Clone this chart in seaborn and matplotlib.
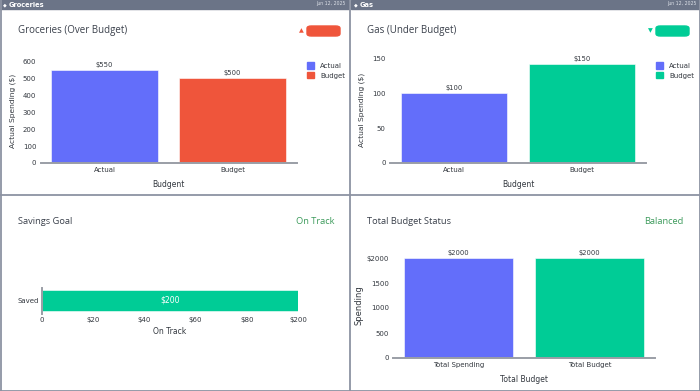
import matplotlib
matplotlib.use("Agg")
import matplotlib.pyplot as plt
import matplotlib.patches as mpatches
import pandas as pd
import seaborn as sns

# data
groc_cats = ["Actual", "Budget"]
groc_vals = [550, 500]
groc_labels = ["$550", "$500"]

gas_cats = ["Actual", "Budget"]
gas_vals = [100, 142]
gas_labels = ["$100", "$150"]

sav_cats = ["Saved"]
sav_vals = [200]
sav_labels = ["$200"]
sav_ticks = [0, 40, 80, 120, 160, 200]
sav_ticklabels = ["0", "$20", "$40", "$60", "$80", "$200"]

tot_cats = ["Total Spending", "Total Budget"]
tot_vals = [2000, 2000]
tot_labels = ["$2000", "$2000"]
tot_ticks = [0, 500, 1000, 1500, 2000]
tot_ticklabels = ["0", "500", "1000", "1500", "$2000"]

BLUE = "#636efa"
RED = "#ef553b"
GREEN = "#00cc96"
TXT = "#33383f"
TITLE = "#3a404b"
OKGREEN = "#3d9b5c"
HEADER = "#6b7487"
BORDER = "#8c93a2"
TITLE_FONT = ["Open Sans", "DejaVu Sans"]

sns.set_theme(style="white")
plt.rcParams["font.family"] = ["DejaVu Sans"]

W, H = 700, 391
fig = plt.figure(figsize=(7, 3.91), dpi=100)
fig.patch.set_facecolor("white")


def rect(x0, y0, x1, y1):
    return [x0 / W, 1 - y1 / H, (x1 - x0) / W, (y1 - y0) / H]


def fx(x):
    return x / W


def fy(y):
    return 1 - y / H


# panel frame: headers, dividers
for x0, name in [(0, "Groceries"), (351, "Gas")]:
    fig.patches.append(mpatches.Rectangle((fx(x0), fy(9)), 349 / W, 9 / H,
                                          transform=fig.transFigure, color=HEADER, zorder=0))
    fig.text(fx(x0 + 2.5), fy(4.6), "◆", color="white", fontsize=3.5, va="center")
    fig.text(fx(x0 + 9), fy(4.6), name, color="white", fontsize=4.8, fontweight="bold", va="center")
    fig.text(fx(x0 + 346), fy(4), "Jun 12, 2025", color="#dde1e8", fontsize=3.3, va="center", ha="right")

for xs, ys in [([350, 350], [0, 391]), ([0, 700], [195, 195]), ([0.5, 0.5], [0, 391]),
               ([699.5, 699.5], [0, 391]), ([0, 700], [390.5, 390.5])]:
    fig.add_artist(plt.Line2D([fx(v) for v in xs], [fy(v) for v in ys], color=BORDER, lw=1.3,
                              transform=fig.transFigure))


def style_axes(ax):
    sns.despine(ax=ax, left=True, top=True, right=True)
    ax.spines["bottom"].set_color("#9a9ea6")
    ax.spines["bottom"].set_linewidth(1.4)
    ax.tick_params(axis="both", labelsize=5, colors=TXT, length=0, pad=3)
    ax.set_facecolor("white")


def vbar_panel(pos, cats, vals, labels, colors, ylim, ylabel, xlabel):
    ax = fig.add_axes(pos)
    df = pd.DataFrame({"cat": cats, "val": vals})
    sns.barplot(data=df, x="cat", y="val", hue="cat", palette=colors, width=0.83,
                legend=False, ax=ax, saturation=1, edgecolor="white", linewidth=0.4)
    ax.set_xlim(-0.5, 1.5)
    ax.set_ylim(*ylim)
    for c, lab in zip(ax.containers, labels):
        ax.bar_label(c, labels=[lab], fontsize=4.9, color=TXT, padding=1.2)
    ax.set_ylabel(ylabel, fontsize=5.4, color=TXT, labelpad=5)
    ax.set_xlabel(xlabel, fontsize=5.5, color=TXT, labelpad=5)
    style_axes(ax)
    return ax


def legend(x, y, colors):
    handles = [mpatches.Patch(color=c, label=l) for c, l in zip(colors, ["Actual", "Budget"])]
    fig.legend(handles=handles, loc="upper left", bbox_to_anchor=(fx(x), fy(y)), frameon=False,
               fontsize=5, handlelength=1.1, handleheight=1.1, handletextpad=0.9,
               labelspacing=0.45, borderaxespad=0, borderpad=0, labelcolor=TXT)


# Groceries
ax1 = vbar_panel(rect(40.5, 58, 296.5, 163), groc_cats, groc_vals, groc_labels, [BLUE, RED],
                 (0, 618), "Actual Spending ($)", "Budgent")
ax1.set_yticks([0, 100, 200, 300, 400, 500, 600])
legend(306.5, 62, [BLUE, RED])
fig.text(fx(18), fy(31), "Groceries (Over Budget)", fontsize=7, color=TITLE, va="center",
         family=TITLE_FONT)
fig.patches.append(mpatches.FancyBboxPatch((fx(307), fy(36)), 33 / W, 10 / H,
                                           boxstyle="round,pad=0,rounding_size=0.006",
                                           transform=fig.transFigure, color=RED))
fig.text(fx(301), fy(31), "▲", fontsize=4.5, color=RED, va="center", ha="center")

# Gas
ax2 = vbar_panel(rect(390, 56, 646, 163), gas_cats, gas_vals, gas_labels, [BLUE, GREEN],
                 (0, 153), "Actual Spending ($)", "Budgent")
ax2.set_yticks([0, 50, 100, 150])
legend(655.5, 62, [BLUE, GREEN])
fig.text(fx(367), fy(31), "Gas (Under Budget)", fontsize=7, color=TITLE, va="center",
         family=TITLE_FONT)
fig.patches.append(mpatches.FancyBboxPatch((fx(656), fy(36)), 33 / W, 10 / H,
                                           boxstyle="round,pad=0,rounding_size=0.006",
                                           transform=fig.transFigure, color=GREEN))
fig.text(fx(650), fy(31), "▼", fontsize=4.5, color=GREEN, va="center", ha="center")

# Savings goal
ax3 = fig.add_axes(rect(42, 287.5, 298, 313.5))
sdf = pd.DataFrame({"cat": sav_cats, "val": sav_vals})
sns.barplot(data=sdf, x="val", y="cat", orient="h", color=GREEN, width=0.8, ax=ax3,
            saturation=1, edgecolor="white", linewidth=0.4)
ax3.set_xlim(0, 200)
ax3.set_ylim(0.5, -0.5)
ax3.bar_label(ax3.containers[0], labels=sav_labels, label_type="center", color="white", fontsize=5.6)
ax3.set_xticks(sav_ticks)
ax3.set_xticklabels(sav_ticklabels)
ax3.set_ylabel("")
ax3.set_xlabel("On Track", fontsize=5.5, color=TXT, labelpad=3)
sns.despine(ax=ax3, top=True, right=True, bottom=True)
ax3.spines["left"].set_color("#9a9ea6")
ax3.spines["left"].set_linewidth(1.4)
ax3.tick_params(axis="both", labelsize=5, colors=TXT, length=0, pad=2.5)
fig.text(fx(18), fy(222), "Savings Goal", fontsize=6.7, color=TITLE, va="center", family=TITLE_FONT)
fig.text(fx(335), fy(222), "On Track", fontsize=6.7, color=OKGREEN, va="center", ha="right",
         family=TITLE_FONT)

# Total budget
ax4 = vbar_panel(rect(393, 253, 655, 358), tot_cats, tot_vals, tot_labels, [BLUE, GREEN],
                 (0, 2100), "Spending", "Total Budget")
ax4.set_yticks(tot_ticks)
ax4.set_yticklabels(tot_ticklabels)
ax4.yaxis.label.set_size(6)
ax4.yaxis.labelpad = 2
fig.text(fx(367), fy(222), "Total Budget Status", fontsize=6.7, color=TITLE, va="center",
         family=TITLE_FONT)
fig.text(fx(683), fy(222), "Balanced", fontsize=6.7, color=OKGREEN, va="center", ha="right",
         family=TITLE_FONT)

fig.savefig("out.png", dpi=100)
